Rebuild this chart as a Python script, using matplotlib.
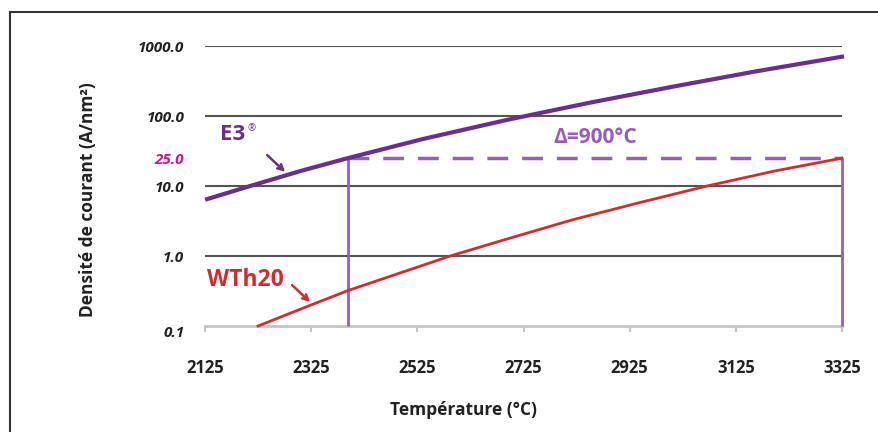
import matplotlib.pyplot as plt
from matplotlib.patches import Rectangle

# values
temps_e3 = [2129, 2210, 2304, 2394, 2536, 2694, 2850, 3007, 3165, 3325]
dens_e3 = [6.5, 10.0, 16.3, 25.0, 47.0, 88.0, 155.0, 263.0, 437.0, 703.0]

temps_wth = [2225, 2325, 2394, 2587, 2694, 2818, 2944, 3071, 3195, 3325]
dens_wth = [0.1, 0.2, 0.32, 1.0, 1.75, 3.3, 5.8, 10.0, 16.2, 25.0]

x_ticks = [2125, 2325, 2525, 2725, 2925, 3125, 3325]
y_ticks = [0.1, 1.0, 10.0, 100.0, 1000.0]
y_labels = ["0.1", "1.0", "10.0", "100.0", "1000.0"]
ref_density = 25.0
t_e3, t_wth = 2394, 3325

plt.rcParams['font.family'] = ['Open Sans', 'DejaVu Sans']

purple = "#6b2d8f"
light_purple = "#9b5cc0"
red = "#d62b2b"
magenta = "#d6127f"
txt = "#222222"

fig = plt.figure(figsize=(8.79, 4.32), dpi=100)
W, H = 879, 432
ax = fig.add_axes([205 / W, 1 - 326 / H, (842 - 205) / W, (326 - 46) / H])

fig.patches.append(Rectangle((10 / W, -0.1), 1.2, 1 - 12 / H + 0.1,
                             transform=fig.transFigure, fill=False,
                             edgecolor="#333333", linewidth=1.5))

ax.set_yscale("log")
ax.set_xlim(2125, 3325)
ax.set_ylim(0.1, 1000)

for v in y_ticks[1:]:
    ax.axhline(v, color="#555555", linewidth=1.5, zorder=1)

ax.plot(temps_e3, dens_e3, color=purple, linewidth=3, zorder=4, clip_on=False,
        solid_joinstyle="round")
ax.plot(temps_wth, dens_wth, color=red, linewidth=2, zorder=4, clip_on=False,
        solid_joinstyle="round")

ax.vlines([t_e3, t_wth], 0.1, ref_density, color=light_purple, linewidth=2,
          zorder=3, clip_on=False)
ax.hlines(ref_density, t_e3, t_wth, color=light_purple, linewidth=2.5,
          linestyles=(0, (6, 4)), zorder=3, clip_on=False)

for s in ["top", "right", "left"]:
    ax.spines[s].set_visible(False)
ax.spines["bottom"].set_color("#c4c4c4")
ax.spines["bottom"].set_linewidth(2)

ax.set_xticks(x_ticks)
ax.set_xticklabels([str(t) for t in x_ticks], fontsize=12, fontweight="bold",
                   color=txt)
ax.tick_params(axis="x", colors="#c4c4c4", length=4, width=1.5, pad=20,
               labelcolor=txt)

ax.set_yticks(y_ticks + [ref_density])
ax.set_yticklabels(y_labels + ["25.0"], fontsize=11, fontweight="bold",
                   style="italic")
ax.minorticks_off()
ax.tick_params(axis="y", length=0, pad=15, labelcolor=txt)
ax.get_yticklabels()[-1].set_color(magenta)
ax.get_yticklabels()[0].set_va("top")

ax.set_xlabel("Température (°C)", fontsize=12.5, fontweight="bold", color=txt)
ax.xaxis.set_label_coords((464 - 205) / 637, -(401 - 326) / 280)
ax.set_ylabel("Densité de courant (A/nm²)", fontsize=12.5, fontweight="bold",
              color=txt)
ax.yaxis.set_label_coords(-(205 - 97) / 637, (326 - 200) / 280)

ax.text(2153, 55, "E3", color=purple, fontsize=16, fontweight="bold",
        va="center")
ax.text(2205, 67, "®", color=purple, fontsize=7, va="center")
ax.annotate("", xy=(2276, 15.9), xytext=(2242, 27.7),
            arrowprops=dict(arrowstyle="->", color=purple, lw=1.8,
                            shrinkA=0, shrinkB=0))
ax.text(2781, 48.5, "Δ=900°C", color=light_purple, fontsize=15,
        fontweight="bold", va="center")
ax.text(2129, 0.45, "WTh20", color=red, fontsize=16.5, fontweight="bold",
        va="center")
ax.annotate("", xy=(2323, 0.22), xytext=(2289, 0.385),
            arrowprops=dict(arrowstyle="->", color=red, lw=1.8,
                            shrinkA=0, shrinkB=0))

fig.savefig("out.png", dpi=100)
